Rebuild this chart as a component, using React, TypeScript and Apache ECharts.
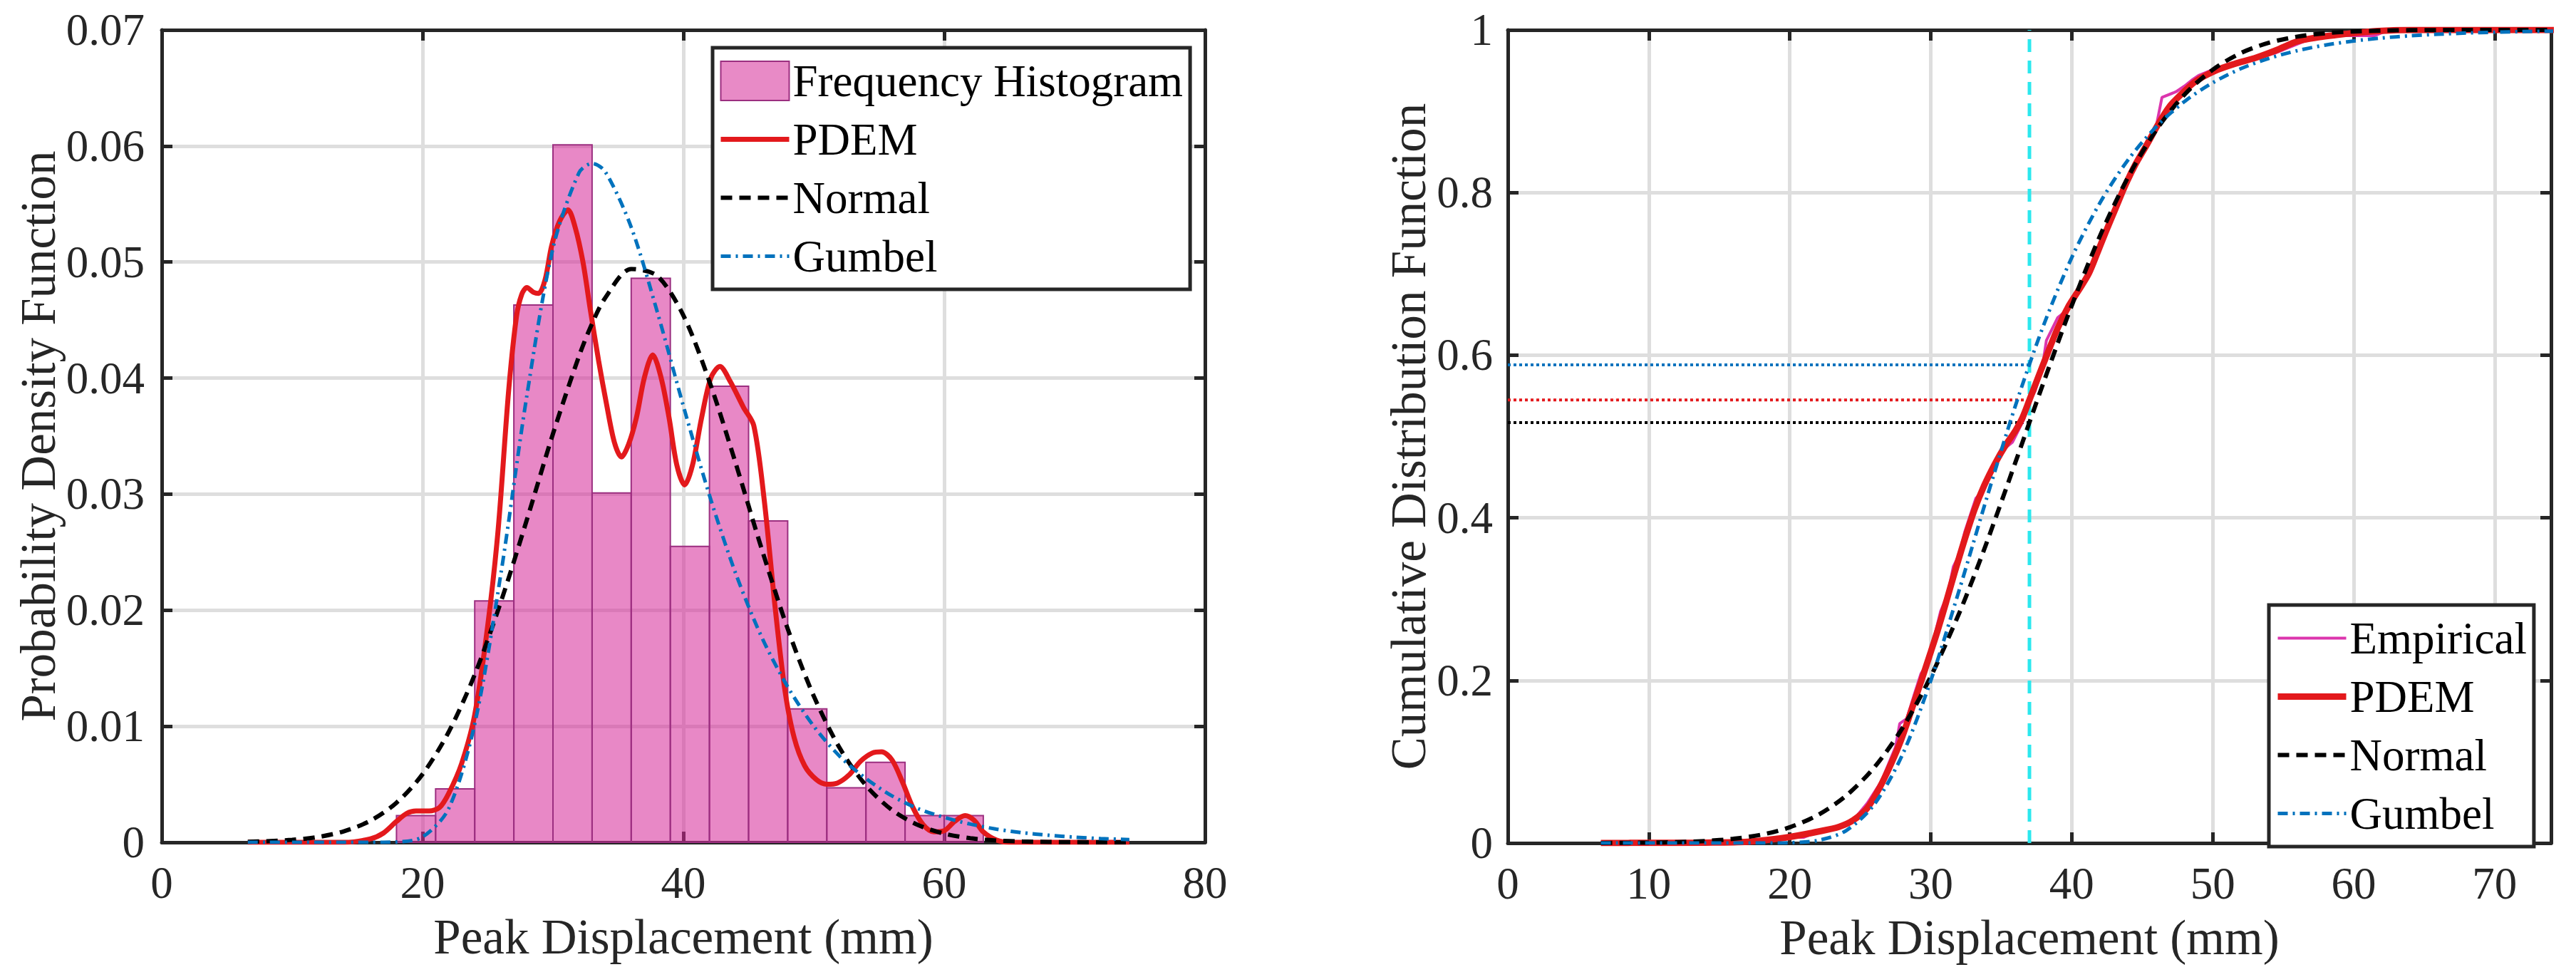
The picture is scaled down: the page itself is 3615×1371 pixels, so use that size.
import React, { useEffect, useRef } from 'react';
import * as echarts from 'echarts';

// histogram (bin edges in mm, density per bin)
const binEdges = [18, 21, 24, 27, 30, 33, 36, 39, 42, 45, 48, 51, 54, 57, 60, 63];
const histDensity = [0.0023, 0.0046, 0.0208, 0.0463, 0.0601, 0.0301, 0.0486, 0.0255, 0.0393, 0.0277, 0.0115, 0.0047, 0.0069, 0.0023, 0.0023];

// PDEM density curve
const pdemPdfX = [6.6, 10, 14, 16, 17, 18, 18.8, 19.5, 20.5, 21.3, 22, 23, 24, 25, 25.8, 26.6, 27.2, 27.6, 28, 28.5, 28.9, 29.4, 29.9, 30.5, 31.15, 31.7, 32.3, 32.85, 33.5, 34.1, 34.7, 35.25, 35.8, 36.4, 37, 37.65, 38.3, 38.9, 39.5, 40.1, 40.7, 41.4, 42.1, 42.8, 43.6, 44.6, 45.4, 46.2, 47.05, 47.8, 48.5, 49.3, 50.2, 51, 51.8, 52.7, 53.6, 54.5, 55.2, 56, 56.8, 57.6, 58.4, 59.2, 60, 60.8, 61.6, 62.3, 63, 64, 65, 70, 74.2];
const pdemPdfY = [0, 0, 0, 0.0003, 0.0008, 0.0018, 0.0025, 0.0027, 0.0027, 0.003, 0.0042, 0.0068, 0.011, 0.0187, 0.027, 0.0389, 0.0453, 0.0472, 0.0478, 0.0474, 0.0473, 0.0485, 0.0514, 0.0535, 0.0545, 0.053, 0.05, 0.046, 0.0415, 0.0378, 0.0345, 0.0332, 0.0343, 0.0366, 0.04, 0.042, 0.04, 0.0366, 0.0325, 0.0308, 0.0325, 0.0366, 0.04, 0.041, 0.0397, 0.0375, 0.0359, 0.0295, 0.0201, 0.013, 0.009, 0.0066, 0.0054, 0.005, 0.0051, 0.0058, 0.007, 0.0077, 0.0078, 0.0071, 0.0052, 0.003, 0.0015, 0.0009, 0.001, 0.0018, 0.0023, 0.0019, 0.0009, 0.0002, 0, 0, 0];

// fitted Normal / Gumbel curves
const fitX = [6.6, 8, 10, 12, 14, 16, 18, 20, 22, 24, 26, 28, 30, 32, 33, 34, 36, 38, 40, 42, 44, 46, 48, 50, 52, 54, 56, 58, 60, 62, 64, 66, 68, 70, 72, 74.2];
const normalPdf = [0.00005, 0.00009, 0.00021, 0.00046, 0.00096, 0.00186, 0.00341, 0.00587, 0.0095, 0.01445, 0.0207, 0.0278, 0.0352, 0.0419, 0.0447, 0.0469, 0.0494, 0.0488, 0.0454, 0.0397, 0.0327, 0.0253, 0.0184, 0.0126, 0.0081, 0.0049, 0.00278, 0.00149, 0.00075, 0.00035, 0.00016, 0.00007, 0.00003, 0.00001, 0, 0];
const gumbelPdf = [0, 0, 0, 0, 0, 0, 0.00003, 0.00047, 0.0029, 0.0102, 0.0231, 0.0385, 0.0512, 0.0577, 0.0585, 0.0578, 0.053, 0.0457, 0.0376, 0.0299, 0.0232, 0.0177, 0.0134, 0.01, 0.0074, 0.0055, 0.004, 0.0029, 0.00215, 0.00157, 0.00114, 0.00083, 0.00061, 0.00044, 0.00032, 0.00023];
const normalCdf = [0.0001, 0.0002, 0.0005, 0.0011, 0.0025, 0.0052, 0.0103, 0.0194, 0.0345, 0.0583, 0.0932, 0.1416, 0.2047, 0.282, 0.3253, 0.371, 0.468, 0.5665, 0.661, 0.7466, 0.819, 0.877, 0.9205, 0.9511, 0.9716, 0.9843, 0.9918, 0.996, 0.9981, 0.9992, 0.9997, 0.9999, 1, 1, 1, 1];
const gumbelCdf = [0, 0, 0, 0, 0, 0, 0.00002, 0.0004, 0.0032, 0.0153, 0.0477, 0.109, 0.1997, 0.31, 0.3679, 0.426, 0.5376, 0.6366, 0.72, 0.7873, 0.8403, 0.8811, 0.912, 0.935, 0.9524, 0.9651, 0.9745, 0.9814, 0.9864, 0.9901, 0.9928, 0.9947, 0.9962, 0.9972, 0.998, 0.9985];

// PDEM cumulative curve
const pdemCdfX = [6.6, 10, 14, 17, 19, 20.5, 22, 23.5, 24.5, 25.5, 26.4, 27.2, 27.9, 28.6, 29.3, 30, 30.5, 31.1, 31.7, 32.4, 33.1, 33.8, 34.6, 35.3, 36, 36.5, 37, 37.6, 38.3, 39, 39.8, 40.5, 41.2, 41.8, 42.4, 43.1, 43.8, 44.5, 45.3, 46.2, 46.9, 47.6, 48.8, 50.2, 51.5, 53.1, 54.5, 56, 57.5, 58.9, 60.5, 62, 64, 74.2];
const pdemCdfY = [0, 0.0002, 0.0005, 0.0015, 0.005, 0.009, 0.014, 0.02, 0.028, 0.043, 0.069, 0.098, 0.127, 0.162, 0.198, 0.235, 0.262, 0.297, 0.333, 0.373, 0.41, 0.44, 0.468, 0.489, 0.507, 0.523, 0.545, 0.572, 0.603, 0.633, 0.661, 0.68, 0.7, 0.725, 0.751, 0.78, 0.809, 0.834, 0.858, 0.886, 0.905, 0.918, 0.937, 0.95, 0.958, 0.966, 0.975, 0.986, 0.991, 0.994, 0.997, 0.999, 1, 1];

// empirical CDF
const empX = [18, 19, 21, 22, 23.5, 24.5, 25.5, 26.5, 27.5, 27.8, 28.3, 28.8, 29.3, 29.8, 30.2, 30.7, 31.2, 31.6, 32, 32.4, 32.8, 33.2, 33.6, 34, 34.4, 34.8, 35.3, 35.8, 36.2, 36.6, 37, 37.4, 37.9, 38.2, 38.6, 39, 39.5, 40, 40.6, 41.2, 41.7, 42.3, 42.8, 43.3, 43.8, 44.3, 44.8, 45.4, 46, 46.4, 47.4, 48, 48.5, 49, 50, 51.5, 53, 54.5, 55.5, 56.5, 58, 61.5, 62.5, 74.2];
const empY = [0, 0.007, 0.007, 0.014, 0.021, 0.028, 0.049, 0.076, 0.118, 0.147, 0.153, 0.181, 0.208, 0.222, 0.25, 0.285, 0.306, 0.34, 0.354, 0.382, 0.403, 0.424, 0.431, 0.451, 0.458, 0.472, 0.486, 0.493, 0.507, 0.521, 0.542, 0.556, 0.583, 0.618, 0.632, 0.646, 0.653, 0.667, 0.681, 0.701, 0.722, 0.743, 0.771, 0.792, 0.813, 0.826, 0.84, 0.861, 0.882, 0.917, 0.924, 0.931, 0.938, 0.944, 0.951, 0.958, 0.965, 0.972, 0.979, 0.986, 0.993, 0.993, 1, 1];

// probability read-off at the query displacement
const queryX = 37;
const queryLevels = [0.588, 0.545, 0.517]; // Gumbel, PDEM, Normal

const FONT = 'Liberation Serif';
const INK = '#262626';
const GRID = '#dedede';
const RED = '#e3191c';
const BLUE = '#0072bd';
const MAGENTA = '#dc35ad';
const CYAN = '#2ce8ee';
const BAR_FILL = 'rgba(214, 38, 152, 0.55)';
const BAR_SOLID = '#e88ac6';
const BAR_EDGE = '#9b2f80';

const DASH = [16, 10];
const DASH_DOT = [14, 7, 3, 7];

const zip = (xs: number[], ys: number[]) => xs.map((x, i) => [x, ys[i]]);

function xAxis(gridIndex: number, max: number, interval: number, primary: boolean, hideMax = false) {
  return {
    type: 'value', gridIndex, min: 0, max, interval,
    position: primary ? 'bottom' : 'top',
    name: primary ? 'Peak Displacement (mm)' : '',
    nameLocation: 'middle', nameGap: 98,
    nameTextStyle: { fontFamily: FONT, fontSize: 69, color: INK },
    axisLine: { show: true, onZero: false, lineStyle: { color: INK, width: 5 } },
    axisTick: { show: true, inside: true, length: 15, lineStyle: { color: INK, width: 5 } },
    axisLabel: { show: primary, margin: 25, color: INK, fontSize: 63, fontFamily: FONT, showMaxLabel: !hideMax },
    splitLine: { show: primary, lineStyle: { color: GRID, width: 5 } },
  };
}

function yAxis(gridIndex: number, max: number, interval: number, primary: boolean, name: string, gap: number, margin: number) {
  return {
    type: 'value', gridIndex, min: 0, max, interval,
    position: primary ? 'left' : 'right',
    name: primary ? name : '',
    nameLocation: 'middle', nameGap: gap,
    nameTextStyle: { fontFamily: FONT, fontSize: 69, color: INK },
    axisLine: { show: true, onZero: false, lineStyle: { color: INK, width: 5 } },
    axisTick: { show: true, inside: true, length: 15, lineStyle: { color: INK, width: 5 } },
    axisLabel: { show: primary, margin, color: INK, fontSize: 63, fontFamily: FONT },
    splitLine: { show: primary, lineStyle: { color: GRID, width: 5 } },
  };
}

function curve(name: string, data: number[][], color: string, width: number, type: any, xi: number, yi: number) {
  return {
    type: 'line', name, data, xAxisIndex: xi, yAxisIndex: yi,
    symbol: 'none', smooth: 0.3, z: 3, color,
    lineStyle: { color, width, type },
    itemStyle: { color },
  };
}

const entry = (name: string, color: string, width: number, type: any) => ({
  name, lineStyle: { color, width, type },
});

function legend(left: number, top: number, data: any[]) {
  return {
    orient: 'vertical', left, top, data,
    padding: [15, 10, 15, 8], itemGap: 19, itemWidth: 96, itemHeight: 55,
    backgroundColor: '#ffffff', borderColor: INK, borderWidth: 5, borderRadius: 0,
    itemStyle: { opacity: 0 },
    textStyle: { fontFamily: FONT, fontSize: 63, color: '#000', lineHeight: 55 },
    selectedMode: false, z: 10,
  };
}

export default function App() {
  const ref = useRef<HTMLDivElement | null>(null);

  useEffect(() => {
    if (!ref.current) return;
    const chart = echarts.init(ref.current, undefined, { renderer: 'svg' });

    const bins = histDensity.map((h, i) => [binEdges[i], binEdges[i + 1], h]);
    const dotted = [BLUE, RED, '#000000'];

    chart.setOption({
      animation: false,
      backgroundColor: '#ffffff',
      grid: [
        { left: 227, top: 42, width: 1464, height: 1140 },
        { left: 2116, top: 42, width: 1464, height: 1141 },
      ],
      xAxis: [xAxis(0, 80, 20, true), xAxis(0, 80, 20, false), xAxis(1, 74, 10, true, true), xAxis(1, 74, 10, false)],
      yAxis: [
        yAxis(0, 0.07, 0.01, true, 'Probability Density Function', 128, 24),
        yAxis(0, 0.07, 0.01, false, '', 0, 0),
        yAxis(1, 1, 0.2, true, 'Cumulative Distribution Function', 105, 21),
        yAxis(1, 1, 0.2, false, '', 0, 0),
      ],
      legend: [
        legend(1000, 67, [
          { name: 'Frequency Histogram', icon: 'rect', itemStyle: { color: BAR_SOLID, borderColor: BAR_EDGE, borderWidth: 2, opacity: 1 } },
          entry('PDEM', RED, 7, 'solid'),
          entry('Normal', '#000000', 6, DASH),
          entry('Gumbel', BLUE, 5, DASH_DOT),
        ]),
        legend(3184, 849, [
          entry('Empirical', MAGENTA, 4, 'solid'),
          entry('PDEM', RED, 9, 'solid'),
          entry('Normal', '#000000', 6, DASH),
          entry('Gumbel', BLUE, 5, DASH_DOT),
        ]),
      ],
      series: [
        {
          type: 'custom', name: 'Frequency Histogram', xAxisIndex: 0, yAxisIndex: 0, z: 1,
          data: bins, encode: { x: [0, 1], y: 2 }, color: BAR_SOLID,
          itemStyle: { color: BAR_SOLID },
          renderItem: (_p: any, api: any) => {
            const a = api.coord([api.value(0), api.value(2)]);
            const b = api.coord([api.value(1), 0]);
            return {
              type: 'rect',
              shape: { x: a[0], y: a[1], width: b[0] - a[0], height: b[1] - a[1] },
              style: { fill: BAR_FILL, stroke: BAR_EDGE, lineWidth: 2 },
            };
          },
        },
        curve('PDEM', zip(pdemPdfX, pdemPdfY), RED, 7, 'solid', 0, 0),
        curve('Normal', zip(fitX, normalPdf), '#000000', 6, DASH, 0, 0),
        curve('Gumbel', zip(fitX, gumbelPdf), BLUE, 5, DASH_DOT, 0, 0),

        ...queryLevels.map((p, i) => ({
          type: 'line', name: 'level' + i, xAxisIndex: 2, yAxisIndex: 2, symbol: 'none', z: 2,
          data: [[0, p], [queryX, p]],
          lineStyle: { color: dotted[i], width: 4, type: [4, 4] },
        })),
        {
          type: 'line', name: 'query', xAxisIndex: 2, yAxisIndex: 2, symbol: 'none', z: 2,
          data: [[queryX, 0], [queryX, 1]],
          lineStyle: { color: CYAN, width: 5, type: [18, 12] },
        },
        { ...curve('Empirical', zip(empX, empY), MAGENTA, 4, 'solid', 2, 2), smooth: false },
        curve('PDEM', zip(pdemCdfX, pdemCdfY), RED, 9, 'solid', 2, 2),
        curve('Normal', zip(fitX, normalCdf), '#000000', 6, DASH, 2, 2),
        curve('Gumbel', zip(fitX, gumbelCdf), BLUE, 5, DASH_DOT, 2, 2),
      ],
    });

    return () => { chart.dispose(); };
  }, []);

  return (
    <div
      ref={ref}
      style={{ position: 'fixed', left: 0, top: 0, width: 3615, height: 1371, background: '#fff' }}
    />
  );
}
